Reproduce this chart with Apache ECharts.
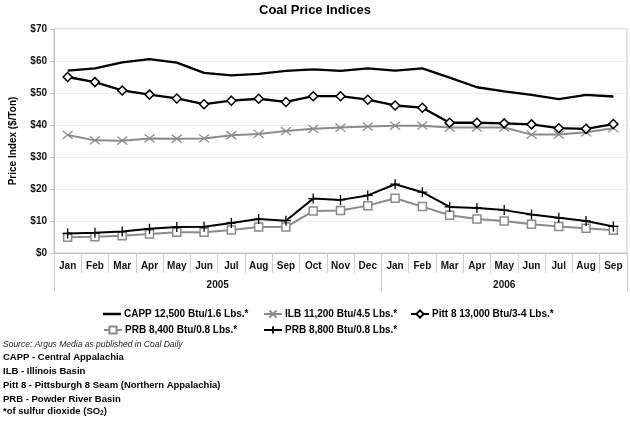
<!DOCTYPE html>
<html>
<head>
<meta charset="utf-8">
<script src="https://cdn.jsdelivr.net/npm/echarts@6/dist/echarts.min.js"></script>
<style>html,body{margin:0;padding:0;background:#fff}#c{width:630px;height:422px}</style>
</head>
<body>
<div id="c"></div>
<script>
const months = ['Jan','Feb','Mar','Apr','May','Jun','Jul','Aug','Sep','Oct','Nov','Dec','Jan','Feb','Mar','Apr','May','Jun','Jul','Aug','Sep'];
const years = ['2005','2006'];
const yearSpans = [12, 9];
const yTicks = [0, 10, 20, 30, 40, 50, 60, 70];
const seriesNames = ['CAPP 12,500 Btu/1.6 Lbs.*','ILB 11,200 Btu/4.5 Lbs.*','Pitt 8 13,000 Btu/3-4 Lbs.*','PRB 8,400 Btu/0.8 Lbs.*','PRB 8,800 Btu/0.8 Lbs.*'];
const capp  = [57.0,57.7,59.6,60.6,59.5,56.3,55.5,56.0,56.9,57.4,56.9,57.7,57.0,57.7,54.8,51.8,50.5,49.4,48.1,49.4,48.9];
const ilb   = [36.9,35.2,35.1,35.8,35.7,35.8,36.8,37.2,38.1,38.8,39.2,39.5,39.8,39.8,39.2,39.2,39.2,37.0,37.0,37.7,39.0];
const pitt  = [55.0,53.4,50.8,49.5,48.3,46.5,47.6,48.2,47.2,49.0,49.0,47.9,46.1,45.4,40.7,40.7,40.5,40.2,39.0,38.8,40.3];
const prb84 = [4.9,5.1,5.4,5.9,6.5,6.5,7.2,8.1,8.1,13.1,13.3,14.8,17.1,14.5,11.8,10.6,10.0,9.0,8.3,7.7,7.1];
const prb88 = [6.1,6.3,6.7,7.6,8.1,8.2,9.4,10.6,10.1,17.0,16.6,18.0,21.5,19.0,14.4,14.1,13.4,12.0,11.0,10.0,8.3];
const notes = ['CAPP - Central Appalachia','ILB - Illinois Basin','Pitt 8 - Pittsburgh 8 Seam (Northern Appalachia)','PRB - Powder River Basin'];

const yearBounds = [0]; yearSpans.forEach(s => yearBounds.push(yearBounds[yearBounds.length-1] + s));
const yearCenters = yearSpans.map((s, i) => yearBounds[i] + s / 2);

const FONT = '"Liberation Sans", Arial, sans-serif';
const GRAY = '#8a8a8a';
const chart = echarts.init(document.getElementById('c'), null, {renderer: 'canvas'});

const legendPos = [[103,309],[263,309],[410,309],[103,325],[263,325]];

chart.setOption({
  backgroundColor: '#fff',
  animation: false,
  title: {text: 'Coal Price Indices', left: 'center', top: 4, padding: 0,
    textStyle: {fontFamily: FONT, fontWeight: 'bold', fontSize: 13, color: '#000'}},
  grid: {left: 52, right: 3, top: 29, bottom: 169, show: true, borderColor: '#c8c8c8', borderWidth: 1, containLabel: false},
  legend: seriesNames.map((n, i) => ({
    data: i === 0 ? [{name: n, icon: 'rect'}] : [n],
    left: legendPos[i][0], top: legendPos[i][1], padding: 0,
    itemWidth: 18, itemHeight: i === 0 ? 2.5 : 9, itemGap: 4,
    textStyle: {fontFamily: FONT, fontWeight: 'bold', fontSize: 10, color: '#000', padding: [0,0,0,-2]}
  })),
  xAxis: [{
    type: 'category', data: months, boundaryGap: true,
    axisLine: {lineStyle: {color: '#c0c0c0'}},
    axisTick: {show: true, interval: 0, length: 20, lineStyle: {color: '#cfcfcf'}},
    axisLabel: {interval: 0, margin: 8, fontFamily: FONT, fontWeight: 'bold', fontSize: 10, color: '#111'},
    splitLine: {show: false}
  }, {
    type: 'value', position: 'bottom', min: 0, max: yearBounds[yearBounds.length-1],
    axisLine: {show: false},
    splitLine: {show: false},
    axisTick: {show: true, customValues: yearBounds, length: 39, lineStyle: {color: '#cfcfcf'}},
    axisLabel: {customValues: yearCenters, margin: 27, fontFamily: FONT, fontWeight: 'bold', fontSize: 10, color: '#111',
      formatter: v => years[yearCenters.indexOf(v)] || ''}
  }],
  yAxis: {
    type: 'value', min: yTicks[0], max: yTicks[yTicks.length-1], interval: 10,
    name: 'Price Index ($/Ton)', nameLocation: 'middle', nameRotate: 90, nameGap: 36,
    nameTextStyle: {fontFamily: FONT, fontWeight: 'bold', fontSize: 10, color: '#000'},
    axisLine: {show: true, lineStyle: {color: '#c0c0c0'}},
    axisTick: {show: true, length: 4, lineStyle: {color: '#c0c0c0'}},
    axisLabel: {margin: 7, fontFamily: FONT, fontWeight: 'bold', fontSize: 10, color: '#111', formatter: v => '$' + v},
    splitLine: {lineStyle: {color: '#ececec'}}
  },
  series: [
    {name: seriesNames[0], type: 'line', data: capp, symbol: 'none', lineStyle: {color: '#000', width: 2.3}, itemStyle: {color: '#000'}, z: 5},
    {name: seriesNames[1], type: 'line', data: ilb, symbol: 'path://M0,0L10,8M10,0L0,8', symbolSize: [10,8],
      lineStyle: {color: GRAY, width: 2}, itemStyle: {color: GRAY, borderColor: GRAY, borderWidth: 1.3}, z: 3},
    {name: seriesNames[2], type: 'line', data: pitt, symbol: 'diamond', symbolSize: [9,9],
      lineStyle: {color: '#000', width: 2.3}, itemStyle: {color: '#fff', borderColor: '#000', borderWidth: 1.5}, z: 4},
    {name: seriesNames[3], type: 'line', data: prb84, symbol: 'rect', symbolSize: 8,
      lineStyle: {color: GRAY, width: 2}, itemStyle: {color: '#fff', borderColor: GRAY, borderWidth: 1.5}, z: 3},
    {name: seriesNames[4], type: 'line', data: prb88, symbol: 'path://M5,0L5,10M0,5L10,5', symbolSize: [10,10],
      lineStyle: {color: '#000', width: 2}, itemStyle: {color: '#000', borderColor: '#000', borderWidth: 1.3}, z: 4}
  ],
  graphic: [
    {type: 'text', left: 3, top: 340, style: {text: 'Source: Argus Media as published in Coal Daily', font: 'italic 8.5px ' + FONT, fill: '#222'}},
    ...notes.map((t, i) => ({type: 'text', left: 3, top: [352, 366, 380, 394][i], style: {text: t, font: 'bold 9.5px ' + FONT, fill: '#000'}})),
    {type: 'text', left: 3, top: 406, style: {text: '*of sulfur dioxide (SO{s|2})', font: 'bold 9.5px ' + FONT, fill: '#000',
      rich: {s: {font: 'bold 6.5px ' + FONT, fill: '#000', padding: [5,0,0,0]}}}}
  ]
});
</script>
</body>
</html>
